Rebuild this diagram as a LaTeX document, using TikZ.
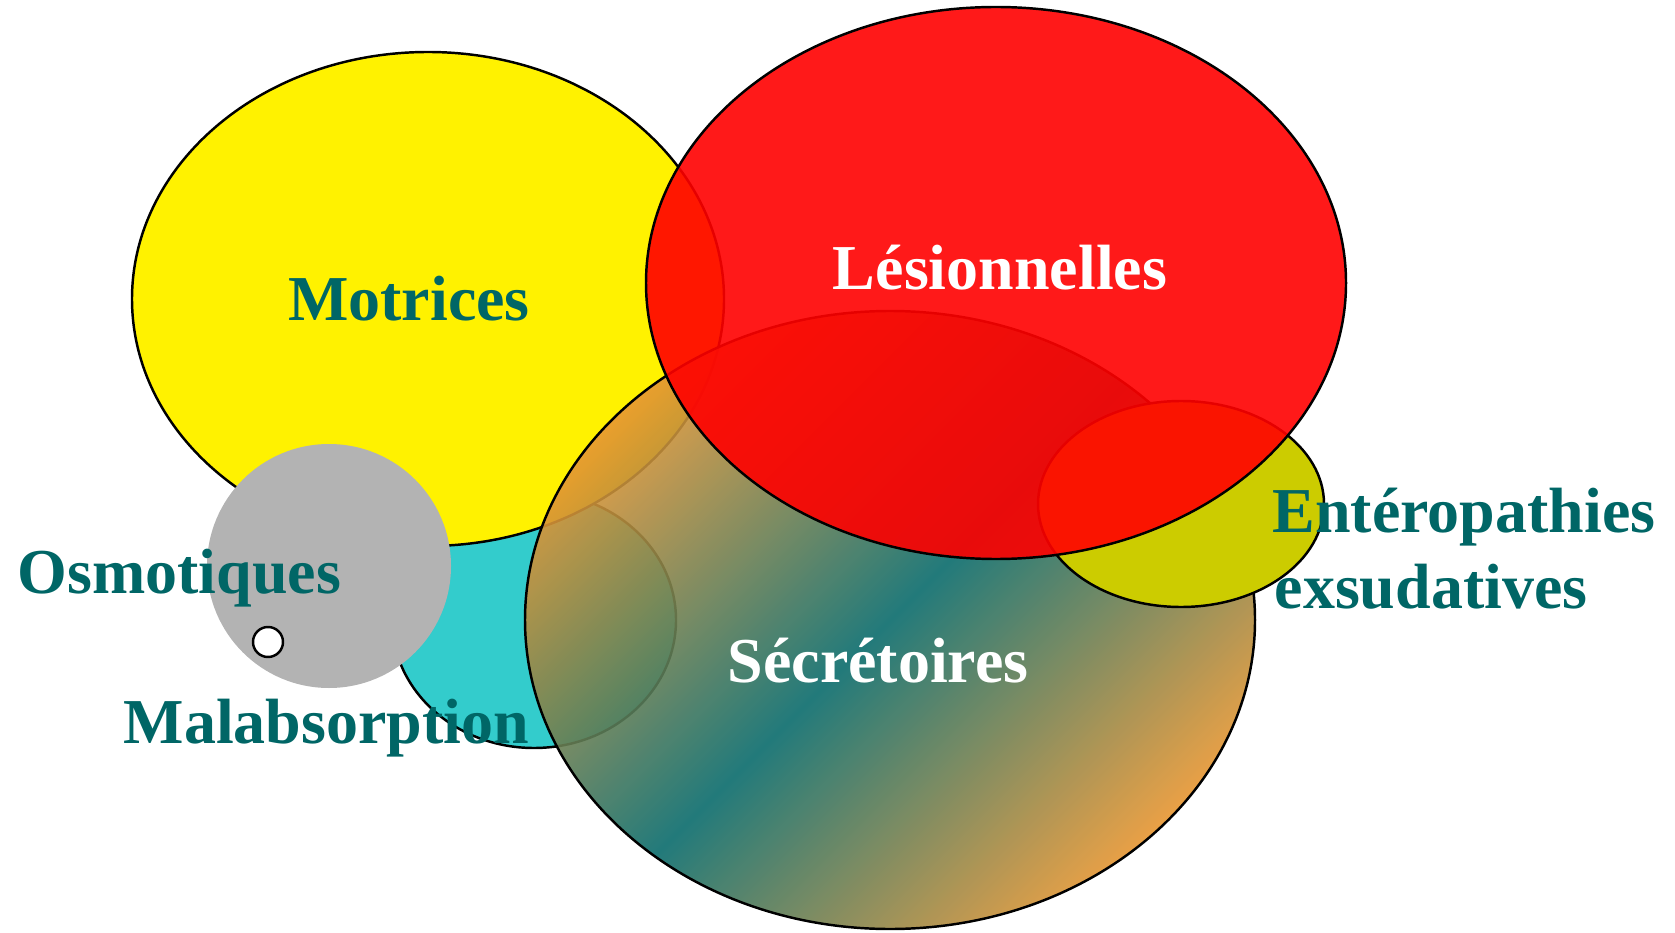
\documentclass[tikz,border=0pt]{standalone}
\usepackage{fontspec}
\setmainfont{Liberation Serif}
\usetikzlibrary{positioning}

\definecolor{labelteal}{RGB}{0,102,102}
\definecolor{malcyan}{RGB}{51,204,204}
\definecolor{osmgray}{RGB}{179,179,179}
\definecolor{exsolive}{RGB}{204,204,0}
\definecolor{secorange}{RGB}{230,150,50}
\definecolor{secteal}{RGB}{10,108,108}

\tikzset{
	lbl/.style={font=\fontsize{18.2}{21.6}\selectfont\bfseries, text=labelteal, inner sep=0pt},
	wlbl/.style={lbl, text=white},
	rim/.style={draw=black, line width=0.7pt}
}

\begin{document}
\begin{tikzpicture}
				\useasboundingbox (0, 0) rectangle (16.75, 9.32);

				\draw[rim, fill=malcyan] (5.34, 3.12) ellipse (1.42 and 1.28);
				\draw[rim, fill=yellow] (4.28, 6.33) ellipse (2.96 and 2.47);
				\fill[osmgray] (3.29, 3.66) circle (1.22);
				\draw[rim, fill=white] (2.68, 2.90) circle (0.15);

				\shade[top color=secorange, bottom color=secorange, middle color=secteal, shading angle=45, fill opacity=0.9] (8.90, 3.12) ellipse (3.65 and 3.09);
				\draw[rim] (8.90, 3.12) ellipse (3.65 and 3.09);

				\draw[rim, fill=exsolive] (11.81, 4.28) ellipse (1.43 and 1.03);
				\draw[rim, fill=red, fill opacity=0.9] (9.96, 6.49) ellipse (3.50 and 2.76);

				\node[lbl, anchor=base] (motrices) at (4.09, 6.11) {Motrices};
				\node[wlbl, anchor=base] (lesion) at (10.00, 6.42) {Lésionnelles};
				\node[wlbl, anchor=base] (secret) at (8.78, 2.50) {Sécrétoires};
				\node[lbl, anchor=base west] (osmo) at (0.17, 3.39) {Osmotiques};
				\node[lbl, anchor=base west] (malab) at (1.23, 1.89) {Malabsorption};
				\node[lbl, anchor=base west] (entero) at (12.72, 4.00) {Entéropathies};
				\node[lbl, anchor=base west] (exsud) at (12.74, 3.24) {exsudatives};
			\end{tikzpicture}
\end{document}
